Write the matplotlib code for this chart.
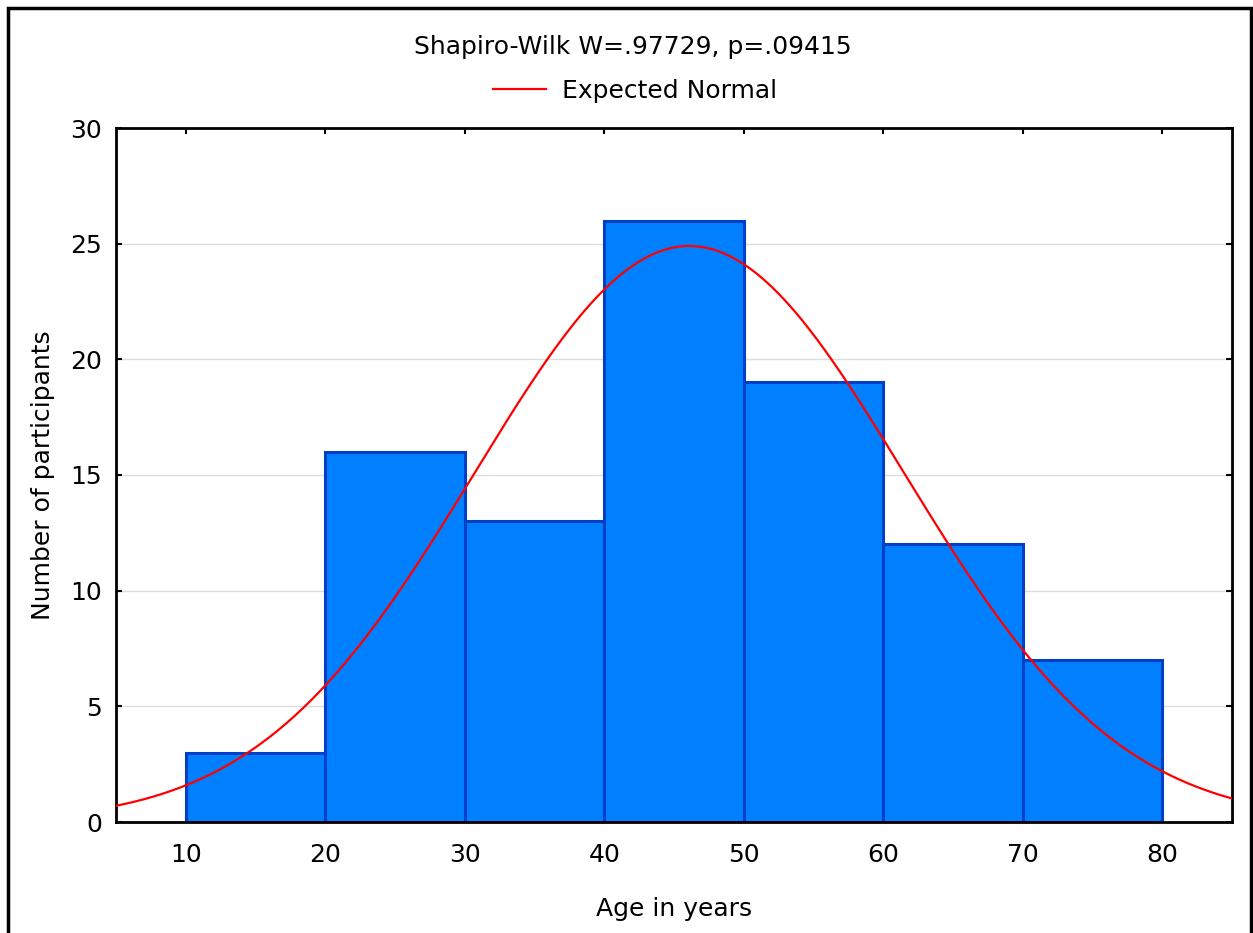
import numpy as np
import matplotlib
matplotlib.use("Agg")
import matplotlib.pyplot as plt
from matplotlib.patches import Rectangle

# Data
bin_edges = [10, 20, 30, 40, 50, 60, 70, 80]
counts = [3, 16, 13, 26, 19, 12, 7]
x_ticks = [10, 20, 30, 40, 50, 60, 70, 80]
y_ticks = [0, 5, 10, 15, 20, 25, 30]
fit_mean = 46.1
fit_sd = 15.38
n_total = sum(counts)
bin_width = 10

plt.rcParams['font.family'] = ['DejaVu Sans']
FS = 18

fig = plt.figure(figsize=(12.53, 9.33), dpi=100)
ax = fig.add_axes([116/1253, 1-822/933, (1232-116)/1253, (822-128)/933])

ax.set_xlim(5, 85)
ax.set_ylim(0, 30)

# grid
ax.set_axisbelow(True)
ax.yaxis.grid(True, color='#dcdcdc', linewidth=1)

ax.bar(bin_edges[:-1], counts, width=np.diff(bin_edges), align='edge',
       color='#0080FF', edgecolor='#0040C8', linewidth=2.2, zorder=2)

xs = np.linspace(5, 85, 400)
ys = n_total * bin_width * np.exp(-0.5 * ((xs - fit_mean) / fit_sd) ** 2) / (fit_sd * np.sqrt(2 * np.pi))
line, = ax.plot(xs, ys, color='#FF0000', linewidth=1.6, zorder=3, label='Expected Normal')

ax.set_xticks(x_ticks)
ax.set_yticks(y_ticks)
ax.tick_params(direction='in', length=4, width=1.5, labelsize=FS, top=True, right=True,
               labeltop=False, labelright=False, pad=10)
ax.tick_params(axis='x', pad=15)
for s in ax.spines.values():
    s.set_linewidth(2)
    s.set_color('black')

ax.set_xlabel('Age in years', fontsize=FS, labelpad=22)
ax.set_ylabel('Number of participants', fontsize=FS, labelpad=11)

fig.text(633/1253, 1-47/933, 'Shapiro-Wilk W=.97729, p=.09415', ha='center', va='center', fontsize=FS)
fig.legend(handles=[line], loc='center', bbox_to_anchor=(635/1253, 1-91/933), frameon=False,
           fontsize=FS, handlelength=2.1, handletextpad=0.65)

# outer frame
fig.patches.append(Rectangle((8/1253, -0.01), (1251-8)/1253, 1 - 8/933 + 0.01, transform=fig.transFigure,
                             fill=False, edgecolor='black', linewidth=2.5))

fig.savefig('out.png', dpi=100)
